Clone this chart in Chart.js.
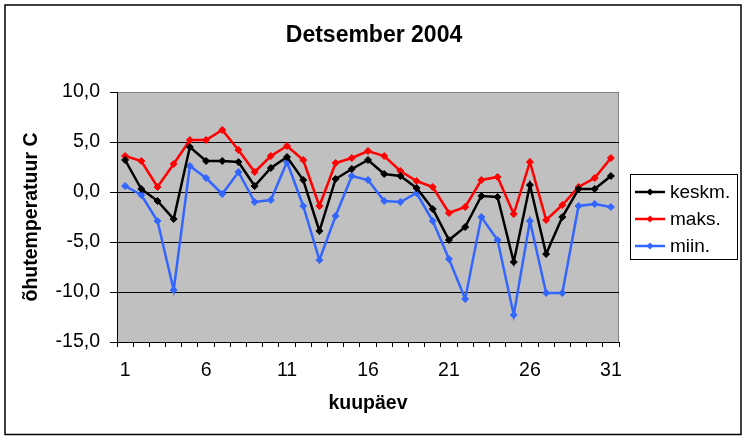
<!DOCTYPE html>
<html>
<head>
<meta charset="utf-8">
<script src="https://cdn.jsdelivr.net/npm/chart.js@4/dist/chart.umd.min.js"></script>
<style>
  html, body { margin: 0; padding: 0; background: #fff; }
  #wrap { width: 748px; height: 440px; position: relative; }
</style>
</head>
<body>
<div id="wrap"><canvas id="c"></canvas></div>
<script>
const days = ['1','2','3','4','5','6','7','8','9','10','11','12','13','14','15','16','17','18','19','20','21','22','23','24','25','26','27','28','29','30','31'];
const keskm = [3.2, 0.3, -0.9, -2.7, 4.5, 3.1, 3.1, 3.0, 0.6, 2.4, 3.5, 1.2, -3.9, 1.3, 2.3, 3.2, 1.8, 1.6, 0.4, -1.7, -4.8, -3.5, -0.4, -0.5, -7.0, 0.7, -6.2, -2.5, 0.3, 0.3, 1.6];
const maks  = [3.6, 3.1, 0.5, 2.8, 5.2, 5.2, 6.2, 4.2, 2.0, 3.6, 4.6, 3.2, -1.4, 2.9, 3.4, 4.1, 3.6, 2.1, 1.1, 0.5, -2.1, -1.5, 1.2, 1.5, -2.2, 3.0, -2.8, -1.3, 0.5, 1.4, 3.4];
const miin  = [0.6, -0.3, -2.9, -9.8, 2.6, 1.4, -0.2, 2.0, -1.0, -0.8, 3.0, -1.4, -6.8, -2.4, 1.6, 1.2, -0.9, -1.0, -0.1, -2.9, -6.7, -10.7, -2.5, -4.8, -12.3, -2.9, -10.1, -10.1, -1.4, -1.2, -1.5];
const seriesNames = ['keskm.', 'maks.', 'miin.'];
const seriesColors = ['#000000', '#FF0000', '#3366FF'];
const yTicks = [-15, -10, -5, 0, 5, 10];

const FONT = '"Liberation Sans", Arial, sans-serif';

const frame = {
  id: 'frame',
  beforeDraw(chart) {
    const {ctx, chartArea: a} = chart;
    ctx.save();
    ctx.fillStyle = '#fff';
    ctx.fillRect(0, 0, chart.width, chart.height);
    ctx.strokeStyle = '#000';
    ctx.lineWidth = 1.5;
    ctx.strokeRect(5, 5, 736, 429.5);
    ctx.fillStyle = '#C0C0C0';
    ctx.fillRect(a.left, a.top, a.right - a.left, a.bottom - a.top);
    ctx.strokeStyle = '#808080';
    ctx.lineWidth = 1;
    ctx.strokeRect(a.left + 0.5, a.top + 0.5, a.right - a.left - 1, a.bottom - a.top);
    ctx.restore();
  },
  afterDraw(chart) {
    const {ctx} = chart;
    ctx.save();
    ctx.strokeStyle = '#000';
    ctx.lineWidth = 1;
    ctx.strokeRect(630.5, 174.5, 107, 85);
    chart.data.datasets.forEach((ds, i) => {
      const y = 192 + i * 27;
      ctx.strokeStyle = ds.borderColor;
      ctx.lineWidth = 2.5;
      ctx.beginPath();
      ctx.moveTo(635, y);
      ctx.lineTo(665, y);
      ctx.stroke();
      ctx.fillStyle = ds.borderColor;
      ctx.beginPath();
      ctx.moveTo(650, y - 3.5);
      ctx.lineTo(653.5, y);
      ctx.lineTo(650, y + 3.5);
      ctx.lineTo(646.5, y);
      ctx.closePath();
      ctx.fill();
      ctx.fillStyle = '#000';
      ctx.font = '19px ' + FONT;
      ctx.textBaseline = 'middle';
      ctx.textAlign = 'left';
      ctx.fillText(ds.label, 670, y + 1);
    });
    ctx.restore();
  }
};

const mk = (label, data, color) => ({
  label, data,
  borderColor: color,
  backgroundColor: color,
  borderWidth: 2.5,
  pointStyle: 'rectRot',
  pointRadius: 3.5,
  pointHoverRadius: 3.5,
  pointBorderWidth: 1,
  tension: 0,
  fill: false,
  yAxisID: 'y'
});

new Chart(document.getElementById('c'), {
  type: 'line',
  data: {
    labels: days,
    datasets: [
      mk(seriesNames[0], keskm, seriesColors[0]),
      mk(seriesNames[1], maks, seriesColors[1]),
      mk(seriesNames[2], miin, seriesColors[2])
    ]
  },
  plugins: [frame],
  options: {
    responsive: true,
    maintainAspectRatio: false,
    animation: false,
    devicePixelRatio: 1,
    layout: { padding: { left: 0, right: 0, top: 0, bottom: 0 } },
    plugins: {
      legend: { display: false },
      tooltip: { enabled: false },
      title: {
        display: true,
        text: 'Detsember 2004',
        color: '#000',
        font: { family: FONT, size: 23, weight: 'bold', lineHeight: 1.2 },
        padding: { top: 21.4, bottom: 43 }
      }
    },
    scales: {
      x: {
        type: 'category',
        offset: true,
        afterFit(s) { s.height = 98; },
        grid: {
          display: true,
          offset: true,
          drawOnChartArea: false,
          drawTicks: true,
          tickLength: 5,
          tickColor: '#000',
          tickWidth: 1
        },
        border: { display: true, color: '#000', width: 1 },
        ticks: {
          autoSkip: false,
          maxRotation: 0,
          padding: 12,
          color: '#000',
          font: { family: FONT, size: 19.5, lineHeight: 1.2 },
          callback(v, i) { return i % 5 === 0 ? this.getLabelForValue(v) : ''; }
        },
        title: {
          display: true,
          text: 'kuupäev',
          color: '#000',
          font: { family: FONT, size: 19.5, weight: 'bold', lineHeight: 1.2 },
          padding: { top: 25, bottom: 25 }
        }
      },
      y: {
        min: yTicks[0],
        max: yTicks[yTicks.length - 1],
        afterFit(s) { s.width = 117; },
        afterBuildTicks(s) { s.ticks = yTicks.map(v => ({ value: v })); },
        grid: {
          color: (c) => (c.tick && c.tick.value === 10) ? '#808080' : '#000',
          lineWidth: 1,
          drawTicks: true,
          tickLength: 7,
          tickColor: '#000',
          tickWidth: 1
        },
        border: { display: true, color: '#000', width: 1 },
        ticks: {
          padding: 10,
          color: '#000',
          font: { family: FONT, size: 19.5, lineHeight: 1.2 },
          callback(v) { return v.toFixed(1).replace('.', ','); }
        },
        title: {
          display: true,
          text: 'õhutemperatuur C',
          color: '#000',
          font: { family: FONT, size: 19.5, weight: 'bold', lineHeight: 1.2 },
          padding: { top: 20, bottom: 20 }
        }
      },
      legendSpace: {
        type: 'linear',
        position: 'right',
        display: true,
        min: 0,
        max: 1,
        afterFit(s) { s.width = 129; },
        grid: { display: false, drawTicks: false },
        border: { display: false },
        ticks: { display: false }
      }
    }
  }
});
</script>
</body>
</html>
